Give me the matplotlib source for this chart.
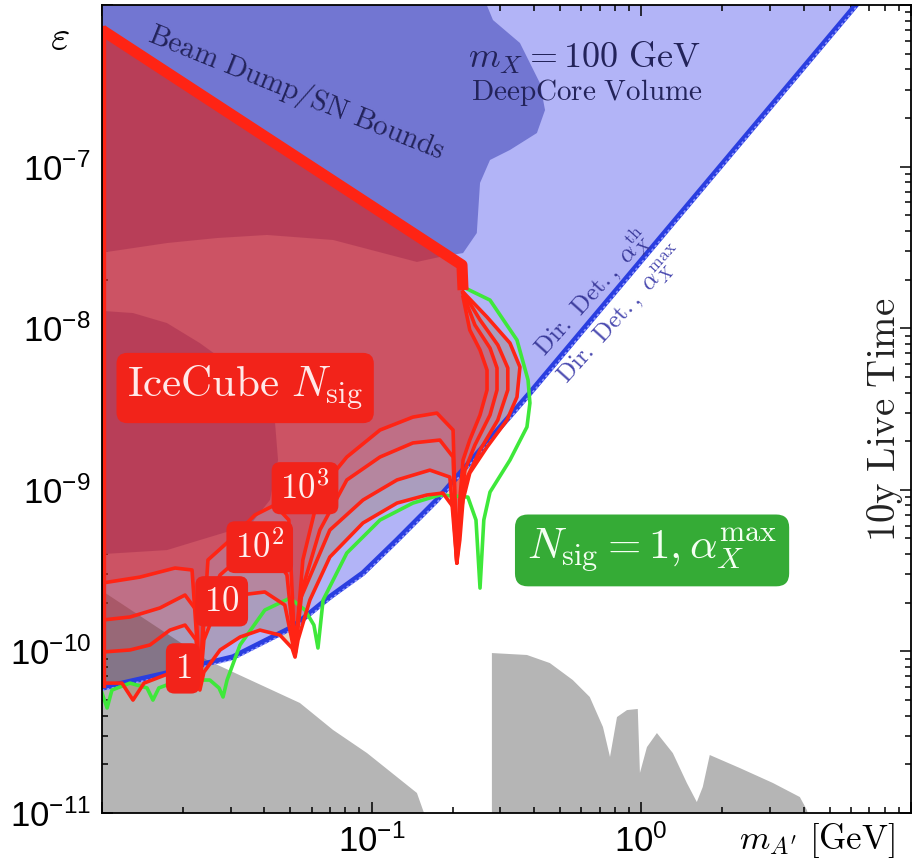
import numpy as np
import matplotlib
matplotlib.use('Agg')
import matplotlib.pyplot as plt
from matplotlib.patches import Polygon

plt.rcParams['mathtext.fontset'] = 'custom'
plt.rcParams['mathtext.rm'] = 'Liberation Sans'
plt.rcParams['mathtext.it'] = 'Liberation Sans:italic'
plt.rcParams['mathtext.bf'] = 'Liberation Sans:bold'
plt.rcParams['font.family'] = ['Liberation Sans', 'DejaVu Sans']

# all values are log10(m_A' / GeV) and log10(epsilon)

# direct detection curve (alpha_X^th / alpha_X^max almost on top of each other)
dd_logm = [-2.0, -1.759, -1.637, -1.514, -1.388, -1.292, -1.155, -1.032, -0.906, -0.758, -0.413, 0.796, 0.85]
dd_logeps = [-10.226, -10.134, -10.084, -10.035, -9.929, -9.849, -9.663, -9.515, -9.311, -9.063, -8.401, -6.0, -5.89]

# beam dump / SN bounds (upper region and lower lobe)
beam_logm = [-2.05, -0.598, -0.550, -0.450, -0.376, -0.357, -0.387, -0.487, -0.561, -0.598, -0.610,
             -0.661, -0.747, -0.832, -0.958, -1.143, -1.388, -1.574, -1.759, -1.981, -2.05]
beam_logeps = [-5.9, -5.9, -6.093, -6.235, -6.483, -6.650, -6.792, -6.897, -6.959, -7.101, -7.411,
               -7.535, -7.559, -7.590, -7.535, -7.454, -7.423, -7.442, -7.473, -7.528, -7.528]
lobe_logm = [-2.05, -1.885, -1.759, -1.637, -1.514, -1.414, -1.359, -1.347, -1.377, -1.451, -1.514, -1.637, -1.759, -2.05]
lobe_logeps = [-7.887, -7.906, -7.968, -8.092, -8.240, -8.382, -8.568, -8.816, -9.063, -9.218, -9.249, -9.311, -9.373, -9.403]

# other constraints (grey)
grayL_logm = [-2.05, -1.611, -1.266, -1.143, -1.017, -0.832, -0.795, -2.05]
grayL_logeps = [-9.57, -10.053, -10.319, -10.486, -10.629, -10.876, -11.05, -11.05]
grayR_logm = [-0.554, -0.554, -0.424, -0.339, -0.254, -0.191, -0.142, -0.116, -0.090, -0.053, -0.013, -0.005,
              0.021, 0.058, 0.117, 0.169, 0.206, 0.228, 0.254, 0.366, 0.488, 0.588, 0.614, 0.625]
grayR_logeps = [-11.05, -10.010, -10.022, -10.072, -10.177, -10.282, -10.468, -10.653, -10.406, -10.363, -10.356, -10.752,
                -10.592, -10.505, -10.629, -10.814, -10.932, -10.839, -10.641, -10.722, -10.814, -10.901, -10.981, -11.05]

# IceCube N_sig contours (lower / right boundary), N = 1, 10, 10^2, 10^3
n1_logm = [-2.000, -1.926, -1.885, -1.844, -1.766, -1.674, -1.651, -1.637, -1.622, -1.562, -1.488, -1.414, -1.340,
           -1.295, -1.284, -1.273, -1.229, -1.155, -1.032, -0.906, -0.795, -0.736, -0.698, -0.684, -0.673, -0.661,
           -0.636, -0.572, -0.498, -0.461, -0.450, -0.487, -0.572, -0.661]
n1_logeps = [-10.196, -10.196, -10.301, -10.196, -10.146, -10.115, -10.146, -10.239, -10.128, -9.991, -9.911, -9.868, -9.899,
             -9.979, -10.035, -9.929, -9.682, -9.416, -9.205, -9.082, -9.032, -9.020, -9.106, -9.453, -9.311, -9.063,
             -8.896, -8.735, -8.568, -8.426, -8.240, -8.092, -7.931, -7.776]
n10_logm = [-2.000, -1.896, -1.822, -1.748, -1.692, -1.651, -1.637, -1.622, -1.581, -1.488, -1.396, -1.322, -1.284,
            -1.266, -1.155, -1.032, -0.906, -0.784, -0.710, -0.684, -0.673, -0.650, -0.598, -0.532, -0.495, -0.495,
            -0.532, -0.598, -0.661]
n10_logeps = [-10.004, -9.991, -9.960, -9.868, -9.837, -9.929, -10.226, -9.929, -9.756, -9.651, -9.632, -9.713, -10.023,
              -9.682, -9.249, -9.063, -8.939, -8.878, -8.921, -9.453, -9.187, -8.939, -8.754, -8.568, -8.382, -8.246,
              -8.104, -7.949, -7.776]
n100_logm = [-2.000, -1.896, -1.785, -1.692, -1.651, -1.637, -1.622, -1.562, -1.470, -1.377, -1.314, -1.284, -1.258,
             -1.192, -1.092, -0.969, -0.847, -0.747, -0.698, -0.684, -0.673, -0.654, -0.617, -0.561, -0.535, -0.535,
             -0.561, -0.617, -0.661]
n100_logeps = [-9.806, -9.787, -9.731, -9.651, -9.744, -10.214, -9.744, -9.527, -9.391, -9.373, -9.527, -10.023, -9.620,
               -9.249, -8.939, -8.797, -8.710, -8.692, -8.797, -9.453, -9.125, -8.878, -8.723, -8.537, -8.382, -8.246,
               -8.123, -7.980, -7.788]
n1000_logm = [-2.000, -1.859, -1.729, -1.666, -1.637, -1.607, -1.525, -1.433, -1.359, -1.307, -1.284, -1.255, -1.192,
              -1.092, -0.969, -0.847, -0.758, -0.698, -0.684, -0.673, -0.661, -0.636, -0.598, -0.572, -0.572, -0.598,
              -0.636, -0.661]
n1000_logeps = [-9.577, -9.540, -9.484, -9.496, -10.202, -9.434, -9.311, -9.156, -9.094, -9.187, -10.023, -9.434, -9.001,
                -8.797, -8.630, -8.550, -8.525, -8.630, -9.453, -9.063, -8.816, -8.692, -8.537, -8.382, -8.259, -8.135,
                -8.011, -7.807]
# common upper edge of the IceCube region
top_logm = [-0.661, -0.665, -2.0]
top_logeps = [-7.764, -7.609, -6.155]

# N_sig = 1 with alpha_X^max (green)
gr_logm = [-2.000, -1.981, -1.963, -1.896, -1.833, -1.811, -1.789, -1.711, -1.600, -1.566, -1.551, -1.536, -1.488,
           -1.396, -1.303, -1.247, -1.214, -1.199, -1.180, -1.092, -0.969, -0.847, -0.747, -0.643, -0.613, -0.598,
           -0.584, -0.561, -0.487, -0.424, -0.413, -0.420, -0.461, -0.561, -0.661]
gr_logeps = [-10.257, -10.350, -10.239, -10.196, -10.226, -10.301, -10.226, -10.177, -10.177, -10.226, -10.282, -10.177, -9.960,
             -9.744, -9.670, -9.744, -9.837, -9.979, -9.682, -9.391, -9.187, -9.082, -9.032, -9.045, -9.187, -9.608,
             -9.187, -9.014, -8.816, -8.611, -8.463, -8.320, -8.073, -7.826, -7.745]

contours = [(n1_logm, n1_logeps, '#965a14'), (n10_logm, n10_logeps, '#d74546'),
            (n100_logm, n100_logeps, '#de2b3c'), (n1000_logm, n1000_logeps, '#f40000')]
contour_labels = [('1', 0.100, 0.179), ('10', 0.148, 0.262), ('10^2', 0.195, 0.329), ('10^3', 0.251, 0.402)]


def pts(lm, le):
    return np.column_stack([10.0 ** np.array(lm), 10.0 ** np.array(le)])


red = '#ff2414'
navy = '#23235a'
CM = 'cm'

fig = plt.figure(figsize=(9.22, 8.64), dpi=100)
ax = fig.add_axes([0.1106, 0.0590, 0.8774, 0.9352])
ax.set_xscale('log')
ax.set_yscale('log')
ax.set_xlim(1e-2, 1e1)
ax.set_ylim(1e-11, 1e-6)

# direct detection excluded region
m_dd = 10.0 ** np.array(dd_logm)
e_dd = 10.0 ** np.array(dd_logeps)
ax.fill_between(m_dd, e_dd, 1e-5, color='#b2b4f7', lw=0, zorder=1)

ax.add_patch(Polygon(pts(beam_logm, beam_logeps), closed=True, fc='#7276d2', ec='none', zorder=2))
ax.add_patch(Polygon(pts(lobe_logm, lobe_logeps), closed=True, fc='#7276d2', ec='none', zorder=2))
ax.add_patch(Polygon(pts(grayL_logm, grayL_logeps), closed=True, fc='black', alpha=0.29, ec='none', zorder=3))
ax.add_patch(Polygon(pts(grayR_logm, grayR_logeps), closed=True, fc='black', alpha=0.29, ec='none', zorder=3))

# IceCube regions
for lm, le, col in contours:
    lm_all = [-2.05] + lm + top_logm[1:] + [-2.05]
    le_all = [le[0]] + le + top_logeps[1:] + [-6.12]
    ax.add_patch(Polygon(pts(lm_all, le_all), closed=True, fc=col, alpha=0.25, ec='none', zorder=4))

ax.plot(m_dd, e_dd, color='#2a3ee0', lw=4, zorder=5)
ax.plot(m_dd, e_dd * 0.965, color='#8f96ff', lw=1.2, ls=(0, (1.5, 1.5)), zorder=5)

ax.plot(10.0 ** np.array(gr_logm), 10.0 ** np.array(gr_logeps), color='#3ee83a', lw=2.6, zorder=6)

for lm, le, col in contours:
    ax.plot(10.0 ** np.array(lm), 10.0 ** np.array(le), color=red, lw=2.6, zorder=7,
            solid_joinstyle='round')
ax.plot(10.0 ** np.array(top_logm), 10.0 ** np.array(top_logeps), color=red, lw=8,
        solid_capstyle='butt', zorder=7)
ax.plot([1e-2, 1e-2], [10 ** -6.155, 10 ** -10.2], color=red, lw=6, zorder=7)

# labels
box_red = dict(boxstyle='round,pad=0.25,rounding_size=0.25', fc='#f2231a', ec='none')
ax.text(0.177, 0.526, r'$\mathrm{IceCube}\ N_{\mathrm{sig}}$', transform=ax.transAxes, ha='center',
        va='center', fontsize=31, color='#ffe8e8', bbox=box_red, zorder=10, math_fontfamily=CM)
for lab, fx, fy in contour_labels:
    ax.text(fx, fy, '$' + lab + '$', transform=ax.transAxes, ha='center', va='center',
            fontsize=25, color='#ffeeee', bbox=box_red, zorder=10, math_fontfamily=CM)
ax.text(0.680, 0.325, r'$N_{\mathrm{sig}}=1, \alpha_X^{\mathrm{max}}$', transform=ax.transAxes,
        ha='center', va='center', fontsize=31, color='#f4fff2', zorder=10, math_fontfamily=CM,
        bbox=dict(boxstyle='round,pad=0.28,rounding_size=0.3', fc='#35ab36', ec='none'))
ax.text(0.597, 0.934, r'$m_X = 100\ \mathrm{GeV}$', transform=ax.transAxes, ha='center', va='center',
        fontsize=26, color=navy, zorder=10, math_fontfamily=CM)
ax.text(0.600, 0.892, r'$\mathrm{DeepCore\ Volume}$', transform=ax.transAxes, ha='center', va='center',
        fontsize=21, color=navy, zorder=10, math_fontfamily=CM)
ax.text(0.241, 0.892, r'$\mathrm{Beam\ Dump/SN\ Bounds}$', transform=ax.transAxes, ha='center',
        va='center', fontsize=21, color=navy, rotation=-22, zorder=10, math_fontfamily=CM)
ax.text(0.606, 0.644, r'$\mathrm{Dir.\ Det.,}\ \alpha_X^{\mathrm{th}}$', transform=ax.transAxes,
        ha='center', va='center', fontsize=18, color='#3a3a9a', rotation=48, zorder=10, math_fontfamily=CM)
ax.text(0.644, 0.615, r'$\mathrm{Dir.\ Det.,}\ \alpha_X^{\mathrm{max}}$', transform=ax.transAxes,
        ha='center', va='center', fontsize=18, color='#4a4ab0', rotation=48, zorder=10, math_fontfamily=CM)
ax.text(0.968, 0.486, r'$\mathrm{10y\ Live\ Time}$', transform=ax.transAxes, ha='center',
        va='center', fontsize=28, color='#222222', rotation=90, zorder=10, math_fontfamily=CM)

fig.text(0.065, 0.955, r'$\varepsilon$', fontsize=30, ha='center', va='center', math_fontfamily=CM)
fig.text(0.886, 0.027, r"$m_{A'}\ [\mathrm{GeV}]$", fontsize=25, ha='center', va='center', math_fontfamily=CM)

# ticks
ax.set_xticks([1e-2, 1e-1, 1e0, 1e1])
ax.set_xticklabels(['', r'$10^{-1}$', r'$10^{0}$', ''])
ax.set_yticks([1e-11, 1e-10, 1e-9, 1e-8, 1e-7, 1e-6])
ax.set_yticklabels([r'$10^{-11}$', r'$10^{-10}$', r'$10^{-9}$', r'$10^{-8}$', r'$10^{-7}$', ''])
ax.tick_params(which='both', direction='in', top=True, right=True, labelsize=25, width=1.1)
ax.tick_params(which='major', length=8, pad=8)
ax.tick_params(which='minor', length=4.5)
ax.tick_params(axis='x', pad=8)
for sp in ax.spines.values():
    sp.set_linewidth(1.3)
    sp.set_zorder(12)

fig.savefig('out.png', dpi=100)
